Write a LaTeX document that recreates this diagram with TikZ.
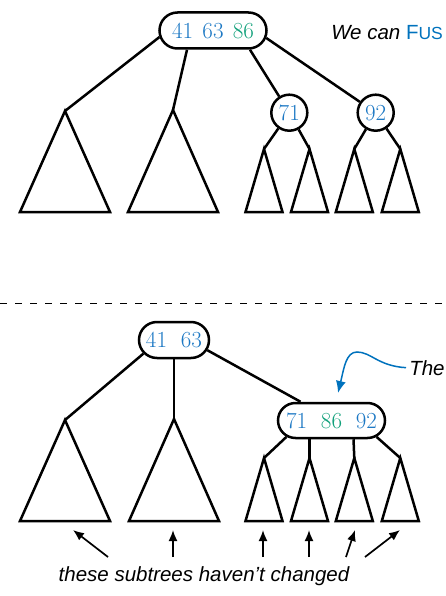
\documentclass[tikz,border=0pt]{standalone}
\usepackage{fontspec}
\setsansfont{Liberation Sans}
\usetikzlibrary{shapes.misc,arrows.meta}

\definecolor{keyblue}{RGB}{28,120,196}
\definecolor{keygreen}{RGB}{16,160,122}
\definecolor{noteblue}{RGB}{0,114,189}

\begin{document}
\begin{tikzpicture}[x=1pt,y=-1pt,
    line width=2.5pt,
    keys/.style={draw, rounded rectangle, minimum height=36pt, inner sep=2pt,
        font=\fontsize{23}{27}\selectfont},
    key/.style={draw, circle, minimum size=36pt, inner sep=0pt,
        font=\fontsize{23}{27}\selectfont, text=keyblue},
    note/.style={font=\fontsize{20.5}{24}\selectfont\sffamily\itshape},
    pointer/.style={line width=1.7pt, -{Latex[length=11pt,width=9pt]}}]

\useasboundingbox (0,0) rectangle (445,596);
\clip (0,0) rectangle (445,596);

% Top tree: 4-node root
\node[keys, minimum width=111pt] (top) at (213,30.5)
    {\textcolor{keyblue}{41}\hspace{0.4em}\textcolor{keyblue}{63}\hspace{0.4em}\textcolor{keygreen}{86}};

% Top tree: 2-node children
\node[key] (k71) at (289.3,112.7) {71};
\node[key] (k92) at (375.7,112.7) {92};

% Top tree: subtrees {name/apex x/apex y/half base/height}
\foreach \n/\ax/\ay/\bw/\bh in {t1/65/111/45/101, t2/173/110/45/102,
    t3/264/149/18.5/63, t4/309.5/149/18.5/63,
    t5/354.3/149/18.5/63, t6/400.3/149/18.5/63}{
    \coordinate (\n) at (\ax,\ay);
    \draw (\n) -- ++(-\bw,\bh) -- ++(2*\bw,0) -- cycle;
}

% Top tree: edges
\draw (top.187) -- (t1);
\draw ([xshift=-26pt]top.south) -- (t2);
\draw ([xshift=37pt]top.south) -- (k71);
\draw (top.352) -- (k92);
\draw (k71) -- (t3);
\draw (k71) -- (t4);
\draw (k92) -- (t5);
\draw (k92) -- (t6);

% Side text (cut at the border)
\node[note, anchor=base west, inner sep=0pt] (fuse) at (330,40)
    {We can \textcolor{noteblue}{\upshape F{\fontsize{17.5}{20}\selectfont US}}};

% Separator
\coordinate (cutl) at (0,303.3);
\coordinate (cutr) at (445,303.3);
\draw[line width=1.6pt, dash pattern=on 7pt off 8pt] (cutl) -- (cutr);

% Bottom tree: 3-node root
\node[keys, minimum width=74pt] (bot) at (174,340)
    {\textcolor{keyblue}{41}\hspace{0.6em}\textcolor{keyblue}{63}};

% Bottom tree: fused 4-node
\node[keys, minimum width=111pt, minimum height=35pt] (merged) at (331.5,420.5)
    {\textcolor{keyblue}{71}\hspace{0.6em}\textcolor{keygreen}{86}\hspace{0.6em}\textcolor{keyblue}{92}};

% Bottom tree: subtrees
\foreach \n/\ax/\ay/\bw/\bh in {b1/65/420/45/101, b2/174/419/45/102,
    b3/264/458/18.5/63, b4/309.5/458/18.5/63,
    b5/354.3/458/18.5/63, b6/400.3/458/18.5/63}{
    \coordinate (\n) at (\ax,\ay);
    \draw (\n) -- ++(-\bw,\bh) -- ++(2*\bw,0) -- cycle;
}

% Bottom tree: edges
\draw (bot.204) -- (b1);
\draw (bot.south) -- (b2);
\draw (bot.343) -- ([xshift=-31pt]merged.north);
\draw (merged.200) -- (b3);
\draw ([xshift=-22pt]merged.south) -- (b4);
\draw ([xshift=22pt]merged.south) -- (b5);
\draw (merged.340) -- (b6);

% Callout to the fused node
\node[note, anchor=base west, inner sep=2pt] (the) at (406,375) {The};
\coordinate (tip) at (338,393);
\draw[noteblue, line width=1.5pt, -{Latex[length=12pt,width=10pt]}]
    (the.west) .. controls (378,366) and (371,352) .. (357,352)
    .. controls (346,352) and (344,368) .. (tip);

% Bottom note with its arrows
\node[note, anchor=base] (same) at (204,581.7) {these subtrees haven't changed};
\foreach \i/\sx/\ex in {1/108/73, 2/173/173, 3/263/263,
    4/309/309, 5/346/355, 6/365/400}{
    \coordinate (from\i) at (\sx,557);
    \coordinate (to\i) at (\ex,530);
    \draw[pointer] (from\i) -- (to\i);
}

\end{tikzpicture}
\end{document}
